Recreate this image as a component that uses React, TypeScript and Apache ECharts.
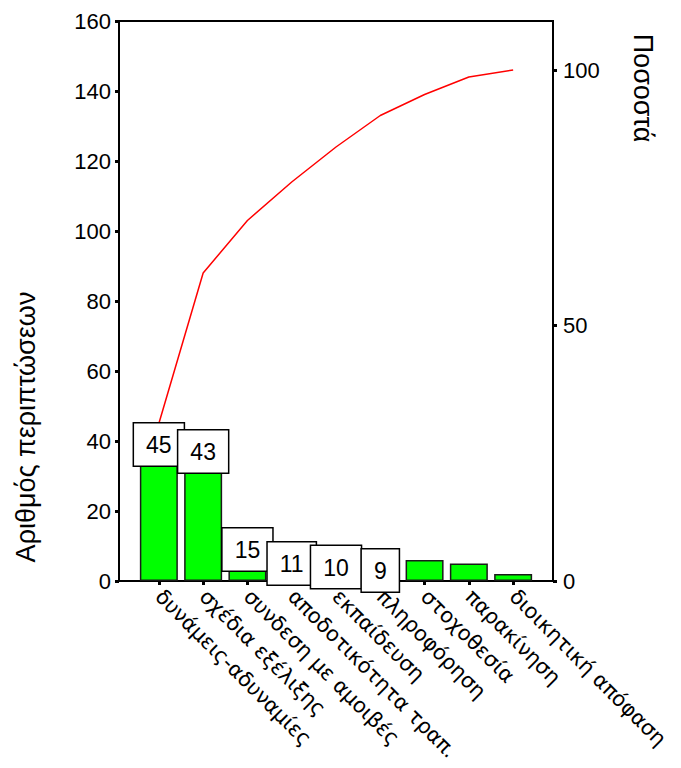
import React, { useEffect, useRef } from "react";
import * as echarts from "echarts";

// Pareto data: reasons and their number of cases, in descending order
const categories = [
  "δυνάμεις-αδυναμίες",
  "σχέδια εξέλιξης",
  "συνδεση με αμοιβές",
  "αποδοτικότητα τραπ.",
  "εκπαίδευση",
  "πληροφόρηση",
  "στοχοθεσία",
  "παρακίνηση",
  "διοικητική απόφαση",
];
const counts = [45, 43, 15, 11, 10, 9, 6, 5, 2];
// only the first bars carry a value box
const labelledBars = 6;

const countTicks = { min: 0, max: 160, interval: 20 };
const percentTicks = [0, 50, 100];

const leftTitle = "Αριθμός περιπτώσεων";
const rightTitle = "Ποσοστά";

const ARIAL = "Arial, 'Liberation Sans', sans-serif";

export default function App() {
  const ref = useRef<HTMLDivElement>(null);

  useEffect(() => {
    if (!ref.current) return;
    const chart = echarts.init(ref.current, undefined, { renderer: "svg" });

    const total = counts.reduce((a, b) => a + b, 0);
    let running = 0;
    const cumulativePct = counts.map((v) => {
      running += v;
      return (running / total) * 100;
    });
    // percentage axis is scaled so that 100% sits at the total count
    const pctMax = (countTicks.max / total) * 100;
    const idx = categories.map((_, i) => i);

    const axisLine = { show: true, onZero: false, lineStyle: { color: "#000", width: 2 } };
    const tick = { show: true, length: 4, lineStyle: { color: "#000", width: 3 } };

    chart.setOption({
      animation: false,
      backgroundColor: "#fff",
      grid: {
        left: 119,
        right: 128,
        top: 21,
        bottom: 187,
        outerBoundsMode: "none",
        containLabel: false,
        show: true,
        borderColor: "#000",
        borderWidth: 2,
        backgroundColor: "transparent",
      },
      xAxis: {
        type: "value",
        min: -0.9,
        max: 8.9,
        axisLine,
        axisTick: { ...tick, customValues: idx },
        splitLine: { show: false },
        axisLabel: {
          customValues: idx,
          formatter: (v: number) => categories[Math.round(v)] ?? "",
          rotate: -45,
          margin: 12,
          color: "#000",
          fontSize: 21,
          fontFamily: "'DejaVu Sans', sans-serif",
        },
      },
      yAxis: [
        {
          type: "value",
          position: "left",
          min: countTicks.min,
          max: countTicks.max,
          interval: countTicks.interval,
          axisLine,
          axisTick: tick,
          splitLine: { show: false },
          axisLabel: { color: "#000", fontSize: 22, fontFamily: ARIAL, margin: 8 },
        },
        {
          type: "value",
          position: "right",
          min: 0,
          max: pctMax,
          axisLine,
          axisTick: { ...tick, customValues: percentTicks },
          splitLine: { show: false },
          axisLabel: {
            customValues: percentTicks,
            color: "#000",
            fontSize: 22,
            fontFamily: ARIAL,
            margin: 10,
          },
        },
      ],
      series: [
        {
          type: "bar",
          yAxisIndex: 0,
          z: 3,
          barWidth: 38,
          data: counts.map((v, i) => ({
            value: [i, v],
            label: { show: i < labelledBars },
          })),
          itemStyle: { color: "#00ff00", borderColor: "#1a1a1a", borderWidth: 1.5 },
          label: {
            show: true,
            position: "insideTop",
            distance: 0,
            formatter: (p: any) => String(p.value[1]),
            color: "#000",
            fontSize: 23,
            fontFamily: ARIAL,
            backgroundColor: "#fff",
            borderColor: "#000",
            borderWidth: 1.5,
            padding: [10, 12, 9, 12],
          },
        },
        {
          type: "line",
          yAxisIndex: 1,
          z: 2,
          symbol: "none",
          data: cumulativePct.map((v, i) => [i, v]),
          lineStyle: { color: "#ff0000", width: 1.5 },
        },
      ],
      graphic: [
        {
          type: "text",
          x: 26,
          y: 427,
          rotation: Math.PI / 2,
          style: {
            text: leftTitle,
            fill: "#000",
            font: `27px ${ARIAL}`,
            align: "center",
            verticalAlign: "middle",
            textAlign: "center",
            textVerticalAlign: "middle",
          },
        },
        {
          type: "text",
          x: 643,
          y: 88,
          rotation: -Math.PI / 2,
          style: {
            text: rightTitle,
            fill: "#000",
            font: `27px ${ARIAL}`,
            align: "center",
            verticalAlign: "middle",
            textAlign: "center",
            textVerticalAlign: "middle",
          },
        },
      ],
    });

    return () => chart.dispose();
  }, []);

  return (
    <div
      ref={ref}
      style={{ position: "absolute", left: 0, top: 0, width: 681, height: 768 }}
    />
  );
}
